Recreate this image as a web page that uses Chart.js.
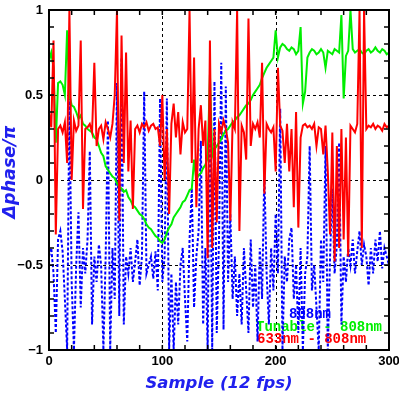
<!DOCTYPE html>
<html>
<head>
<meta charset="utf-8">
<script src="https://cdn.jsdelivr.net/npm/chart.js@4.4.1/dist/chart.umd.min.js"></script>
<style>
  html, body { margin: 0; padding: 0; background: #fff; }
  #chart { display: block; }
</style>
</head>
<body>
<canvas id="chart" width="399" height="399"></canvas>
<script>
// sample index (every second frame)
const samples = [
  0, 2, 4, 6, 8, 10, 12, 14, 16, 18,
  20, 22, 24, 26, 28, 30, 32, 34, 36, 38,
  40, 42, 44, 46, 48, 50, 52, 54, 56, 58,
  60, 62, 64, 66, 68, 70, 72, 74, 76, 78,
  80, 82, 84, 86, 88, 90, 92, 94, 96, 98,
  100, 102, 104, 106, 108, 110, 112, 114, 116, 118,
  120, 122, 124, 126, 128, 130, 132, 134, 136, 138,
  140, 142, 144, 146, 148, 150, 152, 154, 156, 158,
  160, 162, 164, 166, 168, 170, 172, 174, 176, 178,
  180, 182, 184, 186, 188, 190, 192, 194, 196, 198,
  200, 202, 204, 206, 208, 210, 212, 214, 216, 218,
  220, 222, 224, 226, 228, 230, 232, 234, 236, 238,
  240, 242, 244, 246, 248, 250, 252, 254, 256, 258,
  260, 262, 264, 266, 268, 270, 272, 274, 276, 278,
  280, 282, 284, 286, 288, 290, 292, 294, 296, 298,
  300
];

// Δphase/π, 633nm - 808nm
const phase633 = [
  0.40, 0.31, 0.82, -0.32, 0.30, 0.32, 0.28, 0.34, 0.10, 1.00,
  0.00, 0.35, 0.29, 0.32, 0.82, -0.17, 0.30, 0.31, 0.33, 0.28,
  0.69, 0.20, 0.30, 0.32, 0.24, 0.34, 0.30, 0.25, 0.33, 0.50,
  1.00, -0.24, 0.85, 0.10, 0.75, 0.05, 0.35, -0.17, 0.30, 0.32,
  0.28, 0.33, 0.31, 0.34, 0.29, 0.32, 0.33, 0.30, 0.31, 0.20,
  0.50, 0.00, 0.30, -0.20, 0.33, 0.45, 0.25, 0.40, 0.15, 0.34,
  0.28, 0.30, 1.00, 0.10, 0.72, -0.16, 0.30, 0.44, 0.20, 0.35,
  -0.46, 0.82, -0.40, 0.30, -0.25, 0.33, 0.28, 0.35, 0.30, 0.22,
  -0.24, 0.34, 0.30, 1.00, -0.30, 0.32, 0.28, 0.12, 0.95, 0.20,
  0.33, 0.30, 0.34, 0.25, 0.69, -0.08, 0.33, 0.30, 0.28, 0.31,
  0.05, 0.66, 0.32, 0.29, 0.10, 0.33, 0.05, 0.30, -0.16, 0.40,
  -0.28, 0.25, 0.32, 0.33, 0.31, 0.32, 0.30, 0.33, 0.20, 0.31,
  0.30, 0.15, 0.32, 0.05, -0.32, 0.28, -0.48, 0.20, -0.40, 0.30,
  -0.35, 0.25, -0.45, 0.32, 0.30, 0.28, 0.33, 1.00, -0.40, 1.00,
  0.30, 0.32, 0.31, 0.33, 0.30, 0.32, 0.31, 0.29, 0.33, 0.31,
  0.32
];

// Δphase/π, Tunable - 808nm
const phaseTunable = [
  0.70, 0.75, 0.66, 0.22, 0.57, 0.58, 0.56, 0.50, 0.88, 0.50,
  0.44, 0.43, 0.40, 0.36, 0.38, 0.33, 0.32, 0.30, 0.29, 0.28,
  0.25, 0.24, 0.20, 0.16, 0.14, 0.08, 0.06, 0.04, 0.02, 0.01,
  -0.02, -0.04, -0.05, -0.07, -0.06, -0.10, -0.12, -0.15, -0.16, -0.18,
  -0.20, -0.21, -0.23, -0.26, -0.28, -0.29, -0.31, -0.33, -0.34, -0.36,
  -0.37, -0.35, -0.31, -0.28, -0.26, -0.22, -0.20, -0.18, -0.16, -0.13,
  -0.12, -0.09, -0.06, -0.05, 0.12, 0.00, 0.03, 0.04, 0.07, 0.09,
  0.13, 0.62, 0.14, 0.18, 0.20, 0.22, 0.24, 0.27, 0.29, 0.30,
  0.32, 0.34, 0.35, 0.37, 0.38, 0.40, 0.42, 0.44, 0.45, 0.47,
  0.50, 0.52, 0.54, 0.56, 0.60, 0.63, 0.66, 0.68, 0.70, 0.72,
  0.88, 0.72, 0.78, 0.80, 0.79, 0.77, 0.76, 0.78, 0.77, 0.74,
  0.76, 0.90, 0.45, 0.52, 0.72, 0.75, 0.77, 0.76, 0.74, 0.75,
  0.77, 0.75, 0.66, 0.76, 0.75, 0.74, 0.77, 0.76, 0.75, 0.97,
  0.48, 0.73, 0.76, 1.00, 0.77, 0.75, 0.76, 0.77, 0.75, 0.74,
  0.76, 0.77, 0.75, 0.76, 0.78, 0.76, 0.75, 0.77, 0.76, 0.74,
  0.75
];

// Δphase/π, 808nm
const phase808 = [
  -0.45, -0.40, -0.55, -0.90, -0.35, -0.30, -0.42, -0.70, -1.00, 0.48,
  -0.60, -1.00, -0.50, -0.19, -0.75, -0.40, -0.55, -0.35, 0.17, -0.85,
  -0.45, -0.60, -0.38, -0.50, -1.00, -0.45, 0.35, -1.00, -0.40, -0.70,
  0.57, -0.80, 0.72, -0.85, -0.45, -0.55, -0.40, -0.60, -0.48, -0.35,
  -0.62, -0.45, 0.52, -0.55, -0.50, -0.45, -0.58, -0.42, -0.65, 0.48,
  -0.60, -0.45, 0.48, -1.00, -0.55, -1.00, -0.60, -0.85, -0.50, -0.40,
  -0.70, -0.95, -0.35, -0.05, -0.75, -0.45, -0.30, 0.23, -0.85, -0.40,
  -1.00, 0.48, -1.00, 0.58, -0.90, -0.35, 0.69, -0.88, 0.55, -0.60,
  -0.20, -0.70, -0.45, -0.80, -0.55, -0.85, -0.40, -0.65, -0.90, -0.35,
  -0.75, -0.50, -0.95, -0.40, -0.70, 0.05, -0.55, -0.85, -0.40, -0.65,
  -0.20, -0.55, 0.42, -1.00, -0.45, -0.60, -0.35, -0.28, -0.70, -0.50,
  -0.90, -0.40, -1.00, -0.55, -0.45, 0.20, -0.65, -0.50, -0.75, -1.00,
  -0.35, -0.60, 0.20, -1.00, -0.45, -0.05, -0.55, -0.38, 0.22, -0.85,
  -0.45, -0.60, -0.40, -0.50, -0.35, -0.55, -0.42, -0.30, -0.50, -0.38,
  -0.45, -0.62, -0.40, -0.55, -0.35, -0.48, -0.30, -0.52, -0.40, -0.45,
  -0.50
];

// small inward tick marks on all four sides
const xTickMarks = [0, 20, 40, 60, 80, 100, 120, 140, 160, 180, 200, 220, 240, 260, 280, 300];
const yTickMarks = [-1, -0.9, -0.8, -0.7, -0.6, -0.5, -0.4, -0.3, -0.2, -0.1, 0,
  0.1, 0.2, 0.3, 0.4, 0.5, 0.6, 0.7, 0.8, 0.9, 1];
// dotted grid lines
const xGridLines = [100, 200];
const yGridLines = [-0.5, 0, 0.5];

const RED = "#ff0000";
const GREEN = "#00ee00";
const BLUE = "#0000ff";
const TITLE_BLUE = "#2020ee";

const legendLabels = ["808nm", "Tunable - 808nm", "633nm - 808nm"];
const legendColors = [BLUE, GREEN, RED];
const legendPos = [[289, 318], [256, 331], [257, 343]];

function toPoints(values) {
  return samples.map((s, i) => ({ x: s, y: values[i] }));
}

const gnuPlugin = {
  id: "gnuFrame",
  beforeDatasetsDraw(chart) {
    const { ctx, chartArea: a, scales: { x, y } } = chart;
    ctx.save();
    // dotted grid
    ctx.strokeStyle = "#000";
    ctx.lineWidth = 1;
    ctx.setLineDash([3, 3]);
    xGridLines.forEach((v) => {
      const px = Math.round(x.getPixelForValue(v)) + 0.5;
      ctx.beginPath(); ctx.moveTo(px, a.top); ctx.lineTo(px, a.bottom); ctx.stroke();
    });
    yGridLines.forEach((v) => {
      const py = Math.round(y.getPixelForValue(v)) + 0.5;
      ctx.beginPath(); ctx.moveTo(a.left, py); ctx.lineTo(a.right, py); ctx.stroke();
    });
    ctx.setLineDash([]);
    // key text (sits under the curves)
    ctx.font = "bold 14px 'Liberation Mono', monospace";
    ctx.textBaseline = "alphabetic";
    ctx.textAlign = "left";
    legendLabels.forEach((t, i) => {
      ctx.fillStyle = legendColors[i];
      ctx.fillText(t, legendPos[i][0], legendPos[i][1]);
    });
    ctx.restore();
  },
  afterDraw(chart) {
    const { ctx, chartArea: a, scales: { x, y } } = chart;
    ctx.save();
    ctx.strokeStyle = "#000";
    ctx.lineWidth = 1.5;
    const tl = 5;
    xTickMarks.forEach((v) => {
      const px = x.getPixelForValue(v);
      ctx.beginPath();
      ctx.moveTo(px, a.bottom); ctx.lineTo(px, a.bottom - tl);
      ctx.moveTo(px, a.top); ctx.lineTo(px, a.top + tl);
      ctx.stroke();
    });
    yTickMarks.forEach((v) => {
      const py = y.getPixelForValue(v);
      ctx.beginPath();
      ctx.moveTo(a.left, py); ctx.lineTo(a.left + tl, py);
      ctx.moveTo(a.right, py); ctx.lineTo(a.right - tl, py);
      ctx.stroke();
    });
    // frame
    ctx.lineWidth = 2;
    ctx.strokeRect(a.left, a.top, a.right - a.left, a.bottom - a.top);

    // axis titles
    ctx.fillStyle = TITLE_BLUE;
    ctx.font = "italic bold 16.5px 'DejaVu Sans'";
    ctx.textAlign = "center";
    ctx.textBaseline = "alphabetic";
    ctx.fillText("Sample (12 fps)", (a.left + a.right) / 2, 388);
    ctx.translate(15, 172);
    ctx.rotate(-Math.PI / 2);
    ctx.font = "italic bold 17.5px 'DejaVu Sans'";
    ctx.fillText("Δphase/π", 0, 0);
    ctx.restore();
  }
};

const tickFont = { family: "'Liberation Sans', Arial, sans-serif", size: 13, weight: "bold" };

new Chart(document.getElementById("chart"), {
  type: "line",
  data: {
    datasets: [
      {
        label: "633nm - 808nm",
        data: toPoints(phase633),
        borderColor: RED,
        borderWidth: 2,
      },
      {
        label: "Tunable - 808nm",
        data: toPoints(phaseTunable),
        borderColor: GREEN,
        borderWidth: 2,
      },
      {
        label: "808nm",
        data: toPoints(phase808),
        borderColor: BLUE,
        borderWidth: 2,
        borderDash: [3, 2],
      },
    ],
  },
  options: {
    responsive: false,
    animation: false,
    devicePixelRatio: 1,
    layout: { padding: { top: 10, right: 10, left: 0, bottom: 0 } },
    elements: {
      point: { radius: 0 },
      line: { tension: 0, fill: false, borderJoinStyle: "miter" },
    },
    plugins: {
      legend: { display: false },
      tooltip: { enabled: false },
    },
    scales: {
      x: {
        type: "linear",
        min: 0,
        max: 300,
        grid: { display: false, drawTicks: false },
        border: { display: false },
        ticks: {
          stepSize: 100,
          color: "#000",
          font: tickFont,
          padding: 4,
          maxRotation: 0,
        },
        afterFit(scale) {
          scale.height = 49;
          scale.paddingLeft = 0;
          scale.paddingRight = 0;
        },
      },
      y: {
        type: "linear",
        min: -1,
        max: 1,
        grid: { display: false, drawTicks: false },
        border: { display: false },
        ticks: {
          stepSize: 0.5,
          color: "#000",
          font: tickFont,
          padding: 6,
          callback: (v) => String(v).replace("-", "\u2212"),
        },
        afterFit(scale) {
          scale.width = 49;
          scale.paddingTop = 0;
          scale.paddingBottom = 0;
        },
      },
    },
  },
  plugins: [gnuPlugin],
});
</script>
</body>
</html>
